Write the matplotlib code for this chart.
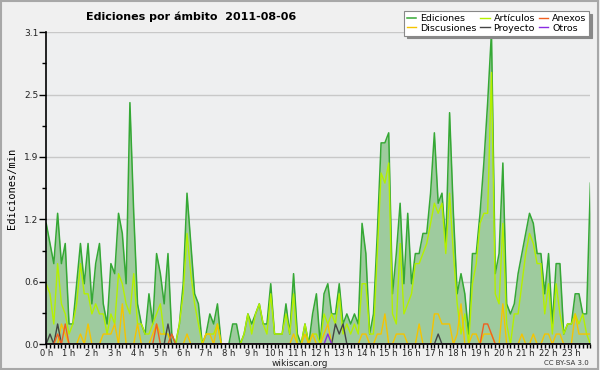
import numpy as np
import matplotlib
matplotlib.use("Agg")
import matplotlib.pyplot as plt
from matplotlib.patches import Rectangle
from matplotlib.ticker import FixedLocator, MultipleLocator, FuncFormatter

# edits per minute, one value per 10 minutes (144 slots)
ediciones = [
    1.2, 1.0, 0.8, 1.3, 0.8, 1.0, 0.2, 0.2, 0.6, 1.0, 0.6, 1.0,
    0.4, 0.8, 1.0, 0.4, 0.2, 0.8, 0.7, 1.3, 1.1, 0.6, 2.4, 1.3,
    0.4, 0.2, 0.1, 0.5, 0.2, 0.9, 0.7, 0.4, 0.9, 0.1, 0.0, 0.2,
    0.6, 1.5, 1.0, 0.5, 0.4, 0.0, 0.1, 0.3, 0.2, 0.4, 0.0, 0.0,
    0.0, 0.2, 0.2, 0.0, 0.1, 0.3, 0.2, 0.3, 0.4, 0.2, 0.2, 0.6,
    0.1, 0.1, 0.1, 0.4, 0.1, 0.7, 0.1, 0.0, 0.2, 0.0, 0.3, 0.5,
    0.0, 0.5, 0.6, 0.3, 0.3, 0.6, 0.2, 0.3, 0.2, 0.3, 0.2, 1.2,
    0.9, 0.1, 0.3, 1.1, 2.0, 2.0, 2.1, 0.5, 0.9, 1.4, 0.6, 1.3,
    0.6, 0.9, 0.9, 1.1, 1.1, 1.5, 2.1, 1.4, 1.5, 1.0, 2.3, 1.3,
    0.5, 0.7, 0.5, 0.1, 0.9, 0.9, 1.3, 1.8, 2.4, 3.1, 0.7, 0.9,
    1.8, 0.4, 0.3, 0.4, 0.7, 0.9, 1.1, 1.3, 1.2, 0.9, 0.9, 0.5,
    0.9, 0.2, 0.8, 0.8, 0.1, 0.2, 0.2, 0.5, 0.5, 0.3, 0.3, 1.6,
]
articulos = [
    0.6, 0.5, 0.2, 0.8, 0.4, 0.3, 0.1, 0.2, 0.4, 0.8, 0.5, 0.5,
    0.3, 0.4, 0.3, 0.3, 0.1, 0.3, 0.2, 0.7, 0.6, 0.4, 0.3, 0.7,
    0.2, 0.2, 0.1, 0.1, 0.2, 0.3, 0.4, 0.1, 0.1, 0.0, 0.0, 0.2,
    0.5, 1.1, 0.7, 0.4, 0.2, 0.0, 0.1, 0.1, 0.1, 0.2, 0.0, 0.0,
    0.0, 0.0, 0.0, 0.0, 0.1, 0.3, 0.1, 0.3, 0.4, 0.2, 0.1, 0.5,
    0.1, 0.1, 0.1, 0.3, 0.1, 0.5, 0.0, 0.0, 0.2, 0.0, 0.1, 0.1,
    0.0, 0.3, 0.2, 0.3, 0.2, 0.5, 0.1, 0.2, 0.1, 0.2, 0.1, 0.6,
    0.6, 0.1, 0.1, 0.9, 1.7, 1.6, 1.8, 0.3, 0.2, 1.0, 0.3, 0.4,
    0.5, 0.8, 0.8, 0.9, 1.0, 1.2, 1.4, 1.3, 1.4, 0.9, 1.5, 0.9,
    0.4, 0.1, 0.3, 0.0, 0.6, 0.8, 1.2, 1.3, 1.3, 2.7, 0.5, 0.4,
    1.2, 0.2, 0.0, 0.3, 0.3, 0.6, 0.9, 1.1, 1.0, 0.8, 0.8, 0.3,
    0.6, 0.1, 0.6, 0.3, 0.1, 0.2, 0.2, 0.3, 0.2, 0.3, 0.1, 0.0,
]
discusiones = [
    0.0, 0.0, 0.0, 0.0, 0.2, 0.1, 0.0, 0.0, 0.0, 0.1, 0.0, 0.2,
    0.0, 0.0, 0.0, 0.1, 0.1, 0.1, 0.2, 0.0, 0.4, 0.0, 0.0, 0.0,
    0.2, 0.0, 0.0, 0.0, 0.1, 0.2, 0.1, 0.1, 0.1, 0.0, 0.0, 0.0,
    0.0, 0.1, 0.0, 0.0, 0.0, 0.0, 0.1, 0.1, 0.0, 0.2, 0.0, 0.0,
    0.0, 0.0, 0.0, 0.0, 0.0, 0.0, 0.0, 0.0, 0.0, 0.0, 0.0, 0.0,
    0.0, 0.0, 0.0, 0.0, 0.0, 0.1, 0.0, 0.0, 0.1, 0.0, 0.1, 0.0,
    0.0, 0.1, 0.2, 0.0, 0.0, 0.0, 0.0, 0.0, 0.0, 0.0, 0.0, 0.1,
    0.1, 0.0, 0.0, 0.1, 0.1, 0.3, 0.0, 0.0, 0.1, 0.1, 0.1, 0.0,
    0.0, 0.0, 0.2, 0.0, 0.0, 0.0, 0.3, 0.3, 0.2, 0.2, 0.2, 0.0,
    0.1, 0.4, 0.0, 0.0, 0.1, 0.1, 0.0, 0.1, 0.1, 0.1, 0.0, 0.0,
    0.4, 0.0, 0.0, 0.0, 0.0, 0.1, 0.0, 0.0, 0.1, 0.0, 0.0, 0.1,
    0.1, 0.0, 0.1, 0.1, 0.0, 0.0, 0.0, 0.3, 0.1, 0.1, 0.1, 0.1,
]
# sparse series: slot index -> value
proyecto = {1: 0.1, 3: 0.2, 32: 0.2, 76: 0.2, 77: 0.1, 78: 0.2, 103: 0.1}
anexos = {3: 0.1, 5: 0.2, 29: 0.2, 33: 0.1, 115: 0.2, 116: 0.2, 117: 0.1}
otros = {74: 0.1}

hours = [f"{h} h" for h in range(24)]
yticks = [0, 0.62, 1.24, 1.86, 2.48, 3.1]

n = len(ediciones)
t = np.arange(n) / 6.0


def sparse(d):
    v = np.zeros(n)
    for k, val in d.items():
        v[k] = val
    return v


fig = plt.figure(figsize=(6, 3.7), dpi=100, facecolor="#f0f0f0")
fig.patches.append(Rectangle((0.002, 0.003), 0.995, 0.994, transform=fig.transFigure,
                             fill=False, edgecolor="#a8a8a8", lw=1.5))
ax = fig.add_axes([0.077, 0.07, 0.907, 0.843])
ax.set_facecolor("#eeeff0")

ax.fill_between(t, 0, ediciones, color="#9ecb9e", lw=0, zorder=2)
l_ed, = ax.plot(t, ediciones, color="#35a835", lw=1.1, zorder=3)
l_art, = ax.plot(t, articulos, color="#b4f000", lw=1.0, zorder=4)
l_dis, = ax.plot(t, discusiones, color="#f5c400", lw=1.0, zorder=5)
l_pro, = ax.plot(t, sparse(proyecto), color="#444444", lw=1.0, zorder=6)
l_anx, = ax.plot(t, sparse(anexos), color="#f06020", lw=1.0, zorder=6)
l_otr, = ax.plot(t, sparse(otros), color="#8a2be2", lw=1.0, zorder=6)

ax.set_xlim(0, t[-1])
ax.set_ylim(0, 3.1)
ax.set_xticks(range(24))
ax.set_xticklabels(hours)
ax.xaxis.set_minor_locator(MultipleLocator(1 / 6))
ax.yaxis.set_major_locator(FixedLocator(yticks))
ax.yaxis.set_minor_locator(FixedLocator([0.31, 0.93, 1.55, 2.17, 2.79]))
ax.yaxis.set_major_formatter(FuncFormatter(lambda v, p: f"{v:.1f}"))
ax.tick_params(axis="y", which="major", labelsize=6.5, length=5, width=1,
               color="black", labelcolor="#222222", pad=0.5)
ax.tick_params(axis="y", which="minor", length=3, width=1, color="black")
ax.tick_params(axis="x", which="both", labelsize=6, length=3, width=1,
               color="black", labelcolor="#222222", pad=0.5)
ax.grid(axis="y", color="#c8c8c8", lw=1, zorder=1)
ax.set_axisbelow(True)
for s in ("top", "right"):
    ax.spines[s].set_visible(False)
ax.spines["left"].set_linewidth(1.2)
ax.spines["bottom"].set_linewidth(1.2)
ax.spines["left"].set_zorder(7)
ax.spines["bottom"].set_zorder(7)

ax.set_ylabel("Ediciones/min", fontsize=7.5, family="DejaVu Sans Mono", labelpad=5)

fig.text(0.143, 0.955, "Ediciones por ámbito  2011-08-06", fontsize=8,
         fontweight="bold", ha="left", va="center")
fig.text(0.5, 0.017, "wikiscan.org", fontsize=6.5, ha="center", va="center", color="#222222")
fig.text(0.982, 0.02, "CC BY-SA 3.0", fontsize=5, ha="right", va="center", color="#333333")

leg = fig.legend([l_ed, l_dis, l_art, l_pro, l_anx, l_otr],
                 ["Ediciones", "Discusiones", "Artículos", "Proyecto", "Anexos", "Otros"],
                 ncol=3, loc="upper right", bbox_to_anchor=(0.99, 0.982),
                 fontsize=6.8, handlelength=1.0, handletextpad=0.4, columnspacing=0.4,
                 labelspacing=0.05, borderpad=0.3, frameon=True, fancybox=False,
                 shadow={"color": "#888888", "alpha": 1}, edgecolor="#888888")
leg.get_frame().set_linewidth(0.8)
leg.set_zorder(10)

fig.savefig("out.png", dpi=100, facecolor=fig.get_facecolor())
